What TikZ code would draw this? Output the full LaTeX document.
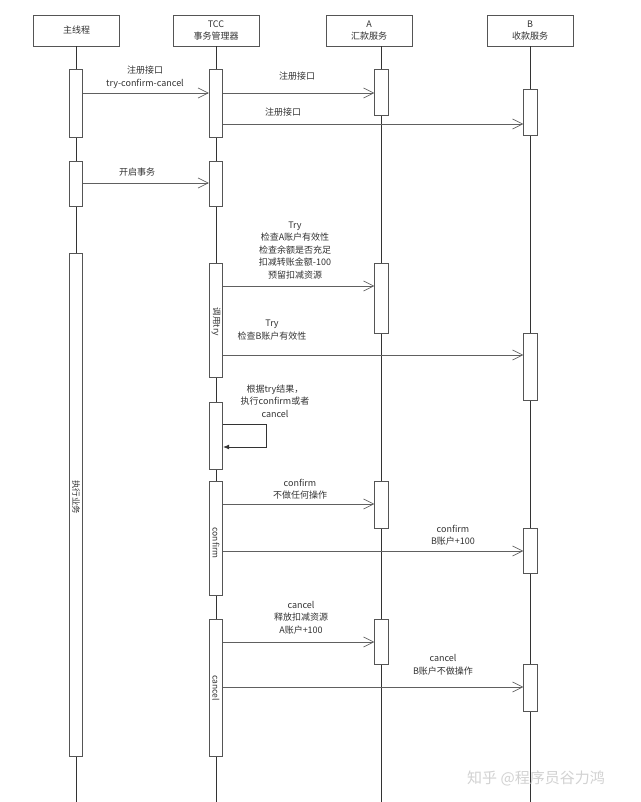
\documentclass[tikz,border=0pt]{standalone}
\usepackage{fontspec}
\setmainfont{Noto Sans CJK SC}
\usetikzlibrary{arrows.meta}
\definecolor{txt}{HTML}{333333}
\definecolor{boxc}{HTML}{555555}
\definecolor{linec}{HTML}{333333}
\definecolor{msgc}{HTML}{606060}
\begin{document}
\begin{tikzpicture}[x=1pt,y=-1pt,
  every node/.style={font=\fontsize{9}{12}\selectfont, text=txt},
  head/.style={draw=boxc, line width=0.9pt, minimum width=86pt, minimum height=31pt, inner sep=0pt, align=center, fill=white},
  act/.style={draw=boxc, line width=0.9pt, fill=white, minimum width=13.5pt, inner sep=0pt, anchor=north},
  life/.style={draw=linec, line width=0.9pt},
  msg/.style={draw=msgc, line width=0.65pt, -{Straight Barb[length=10pt,width=10pt]}},
  selfmsg/.style={draw=linec, line width=0.65pt, -{Latex[length=6pt,width=5pt]}},
  lbl/.style={align=center, inner sep=0pt, font=\fontsize{9}{12.5}\selectfont},
  vlbl/.style={rotate=-90, inner sep=0pt, font=\fontsize{8.5}{10}\selectfont}
]
\fill[white] (0,0) rectangle (640,802);
\useasboundingbox (0,0) rectangle (640,802);

% headers
\node[head] (h1) at (76.5,30.5) {主线程};
\node[head] (h2) at (216,30.5) {TCC\\事务管理器};
\node[head] (h3) at (369,30.5) {A\\汇款服务};
\node[head] (h4) at (530,30.5) {B\\收款服务};

% lifeline ends
\coordinate (e1) at (76,802);
\coordinate (e2) at (216,802);
\coordinate (e3) at (381.5,802);
\coordinate (e4) at (530.5,802);

\draw[life] (h1.south -| e1) -- (e1);
\draw[life] (h2.south -| e2) -- (e2);
\draw[life] (h3.south -| e3) -- (e3);
\draw[life] (h4.south -| e4) -- (e4);

% activations: main
\node[act, minimum height=68pt] (m1) at (76,69) {};
\node[act, minimum height=45pt] (m2) at (76,161) {};
\node[act, minimum height=503pt] (m3) at (76,253) {};
% TCC
\node[act, minimum height=68pt] (t1) at (216,69) {};
\node[act, minimum height=45pt] (t2) at (216,161) {};
\node[act, minimum height=114pt] (t3) at (216,263) {};
\node[act, minimum height=67pt] (t4) at (216,402) {};
\node[act, minimum height=114pt] (t5) at (216,481) {};
\node[act, minimum height=137pt] (t6) at (216,619) {};
% A
\node[act, minimum height=46pt] (a1) at (381.5,69) {};
\node[act, minimum height=70pt] (a2) at (381.5,263) {};
\node[act, minimum height=47pt] (a3) at (381.5,481) {};
\node[act, minimum height=45pt] (a4) at (381.5,619) {};
% B
\node[act, minimum height=46pt] (b1) at (530.5,89) {};
\node[act, minimum height=67pt] (b2) at (530.5,333) {};
\node[act, minimum height=45pt] (b3) at (530.5,528) {};
\node[act, minimum height=47pt] (b4) at (530.5,664) {};

% rotated labels
\node[vlbl] (v1) at (76,497) {执行业务};
\node[vlbl] (v2) at (216,322) {调用try};
\node[vlbl] (v3) at (216,543) {confirm};
\node[vlbl] (v4) at (216,688) {cancel};

% messages
\draw[msg] (m1.east |- 0,93) -- (t1.west |- 0,93);
\draw[msg] (t1.east |- 0,93) -- (a1.west |- 0,93);
\draw[msg] (t1.east |- 0,124) -- (b1.west |- 0,124);
\draw[msg] (m2.east |- 0,183) -- (t2.west |- 0,183);
\draw[msg] (t3.east |- 0,286) -- (a2.west |- 0,286);
\draw[msg] (t3.east |- 0,355) -- (b2.west |- 0,355);
\draw[selfmsg] (t4.east |- 0,424) -| (266,447) -- (t4.east |- 0,447);
\draw[msg] (t5.east |- 0,504) -- (a3.west |- 0,504);
\draw[msg] (t5.east |- 0,551) -- (b3.west |- 0,551);
\draw[msg] (t6.east |- 0,642) -- (a4.west |- 0,642);
\draw[msg] (t6.east |- 0,687) -- (b4.west |- 0,687);

% message labels
\node[lbl] (l1) at (145,77.5) {注册接口\\try-confirm-cancel};
\node[lbl] (l2) at (297,76) {注册接口};
\node[lbl] (l3) at (283,112) {注册接口};
\node[lbl] (l4) at (137,172) {开启事务};
\node[lbl] (l5) at (295,250.5) {Try\\检查A账户有效性\\检查余额是否充足\\扣减转账金额-100\\预留扣减资源};
\node[lbl] (l6) at (272,330) {Try\\检查B账户有效性};
\node[lbl] (l7) at (275,401) {根据try结果，\\执行confirm或者\\cancel};
\node[lbl] (l8) at (300,489) {confirm\\不做任何操作};
\node[lbl] (l9) at (453,535) {confirm\\B账户+100};
\node[lbl] (l10) at (301,617.5) {cancel\\释放扣减资源\\A账户+100};
\node[lbl] (l11) at (443,665) {cancel\\B账户不做操作};

% watermark
\node[font=\fontsize{15}{15}\selectfont, text=gray!35] (wm) at (536,778) {知乎 @程序员谷力鸿};
\end{tikzpicture}
\end{document}
